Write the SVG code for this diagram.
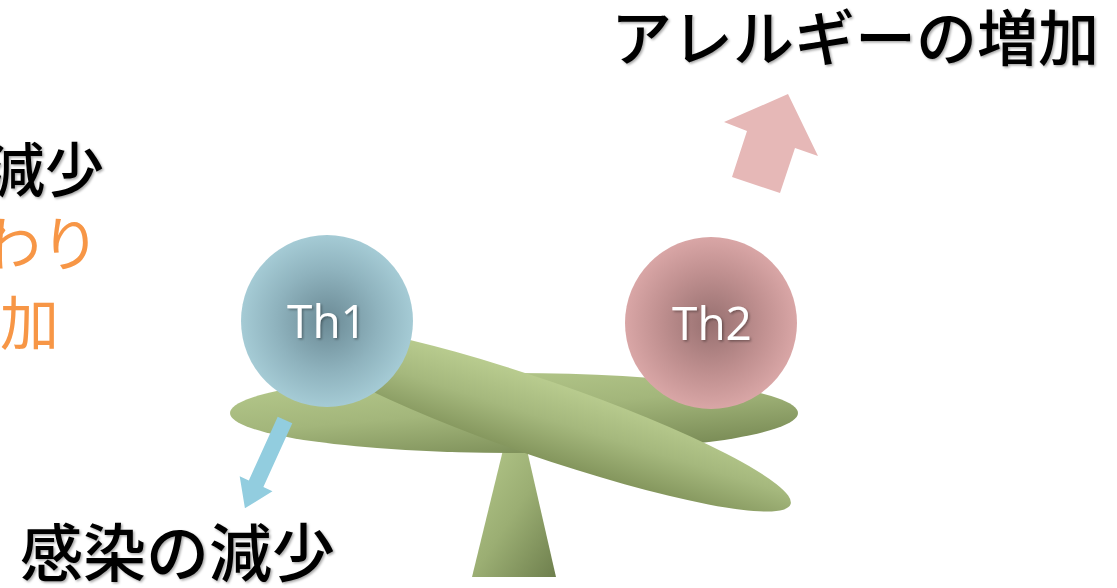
<svg xmlns="http://www.w3.org/2000/svg" width="1117" height="588" viewBox="0 0 1117 588">
  <style>
    .jp { font-family: "Noto Sans CJK JP", "Noto Sans", sans-serif; font-weight: 500; }
    .big { font-size: 61px; fill: #000000; }
    .side { font-size: 59px; }
    .orange { fill: #f79646; font-weight: 400; }
    .cell { font-family: "Open Sans", "Liberation Sans", sans-serif; font-size: 46px; fill: #ffffff; text-anchor: middle; }
  </style>
  <defs>
    <filter id="shadow" x="-10%" y="-20%" width="130%" height="150%">
      <feDropShadow dx="1.5" dy="1.5" stdDeviation="1" flood-color="#000000" flood-opacity="0.35"/>
    </filter>
    <linearGradient id="greenFlat" x1="0" y1="0" x2="0.6" y2="1">
      <stop offset="0" stop-color="#b9cd8f"/>
      <stop offset="0.55" stop-color="#a3b67b"/>
      <stop offset="1" stop-color="#7c8e58"/>
    </linearGradient>
    <linearGradient id="greenTilt" x1="0.3" y1="0" x2="0.5" y2="1">
      <stop offset="0" stop-color="#bacd90"/>
      <stop offset="0.5" stop-color="#a5b87d"/>
      <stop offset="1" stop-color="#84965d"/>
    </linearGradient>
    <linearGradient id="greenBase" x1="0" y1="0" x2="1" y2="1">
      <stop offset="0" stop-color="#b5c98b"/>
      <stop offset="0.5" stop-color="#9bae73"/>
      <stop offset="1" stop-color="#6e7f4d"/>
    </linearGradient>
    <radialGradient id="blueBall" cx="0.5" cy="0.5" r="0.5">
      <stop offset="0" stop-color="#6b8a95"/>
      <stop offset="0.6" stop-color="#8fb3be"/>
      <stop offset="1" stop-color="#a5cbd5"/>
    </radialGradient>
    <radialGradient id="pinkBall" cx="0.5" cy="0.5" r="0.5">
      <stop offset="0" stop-color="#977070"/>
      <stop offset="0.6" stop-color="#c09090"/>
      <stop offset="1" stop-color="#d9a6a6"/>
    </radialGradient>
  </defs>

  <rect width="1117" height="588" fill="#ffffff"/>

  <!-- seesaw: fulcrum, board and tilted board -->
  <g id="seesaw">
    <polygon points="503,450 527,450 556,577 472,577" fill="url(#greenBase)"/>
    <ellipse cx="514" cy="413" rx="284" ry="40" fill="url(#greenFlat)"/>
    <ellipse cx="540" cy="418" rx="265" ry="38" fill="url(#greenTilt)" transform="rotate(19 540 418)"/>
  </g>

  <g id="th1">
    <circle cx="327" cy="321" r="86" fill="url(#blueBall)"/>
    <text class="cell" x="327" y="338" filter="url(#shadow)">Th1</text>
  </g>

  <g id="th2">
    <circle cx="711" cy="323" r="86" fill="url(#pinkBall)"/>
    <text class="cell" x="712" y="340" filter="url(#shadow)">Th2</text>
  </g>

  <!-- direction arrows -->
  <g id="connectors">
    <polygon transform="translate(285 420) rotate(24.4)" points="-8,0 8,0 8,70 18,70 0,97 -18,70 -8,70" fill="#92cddf"/>
    <polygon points="788,94 818,156 795,148 780,193 732,177 747,131 724,122" fill="#e6b8b7"/>
  </g>

  <g id="label-allergy">
    <text class="jp big" x="611" y="61" filter="url(#shadow)">アレルギーの増加</text>
  </g>

  <g id="label-infection">
    <text class="jp big" x="20" y="576" style="font-size:63px" filter="url(#shadow)">感染の減少</text>
  </g>

  <g id="label-side">
    <text class="jp side" x="104" y="192" text-anchor="end" filter="url(#shadow)">減少</text>
    <text class="jp side orange" x="100" y="266" text-anchor="end">わり</text>
    <text class="jp side orange" x="59" y="345" text-anchor="end">加</text>
  </g>
</svg>
